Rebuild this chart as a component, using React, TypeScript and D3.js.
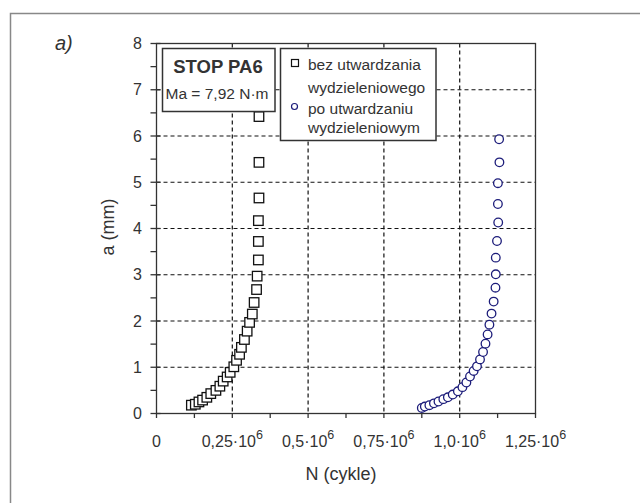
import React from "react";
import * as d3 from "d3";

const xTickValues = [0, 0.25e6, 0.5e6, 0.75e6, 1.0e6, 1.25e6];
const xTickMantissa = ["0", "0,25", "0,5", "0,75", "1,0", "1,25"];
const yTickValues = [0, 1, 2, 3, 4, 5, 6, 7, 8];

// series 1: bez utwardzania wydzieleniowego (squares)
const sqN = [0.115, 0.128, 0.14, 0.152, 0.166, 0.179, 0.196, 0.209, 0.22, 0.233, 0.243, 0.255, 0.264, 0.274, 0.28, 0.29, 0.299, 0.307, 0.316, 0.322, 0.33, 0.332, 0.336, 0.336, 0.336, 0.338, 0.338, 0.338];
const sqA = [0.18, 0.2, 0.25, 0.29, 0.35, 0.43, 0.5, 0.59, 0.7, 0.79, 0.89, 1.01, 1.15, 1.28, 1.43, 1.6, 1.78, 1.97, 2.15, 2.4, 2.68, 2.97, 3.32, 3.72, 4.17, 4.66, 5.43, 6.42];

// series 2: po utwardzaniu wydzieleniowym (circles)
const ciN = [0.875, 0.885, 0.9, 0.915, 0.93, 0.946, 0.961, 0.977, 0.994, 1.009, 1.022, 1.034, 1.046, 1.057, 1.067, 1.077, 1.085, 1.092, 1.098, 1.105, 1.112, 1.118, 1.119, 1.119, 1.123, 1.127, 1.126, 1.126, 1.131, 1.13];
const ciA = [0.12, 0.15, 0.18, 0.22, 0.26, 0.31, 0.35, 0.41, 0.48, 0.57, 0.67, 0.8, 0.92, 1.02, 1.17, 1.33, 1.51, 1.71, 1.92, 2.16, 2.42, 2.72, 3.01, 3.37, 3.73, 4.13, 4.53, 4.98, 5.43, 5.93];

const legendLines = ["bez utwardzania", "wydzieleniowego", "po utwardzaniu", "wydzieleniowym"];

const W = 640;
const H = 503;
const L = 156.5, R = 535.5, T = 43.5, B = 413.5;
const FONT = "'Liberation Sans', Arial, sans-serif";
const TXT = "#333";

export default function App() {
  const x = d3.scaleLinear().domain([0, 1.25e6]).range([L, R]);
  const y = d3.scaleLinear().domain([0, 8]).range([B, T]);
  const xMinor = d3.range(0, 1.25e6 + 1, 0.125e6);
  const yMinor = d3.range(0, 8.01, 0.5);
  const sq = 9.5;

  return (
    <svg width={W} height={H} style={{ position: "absolute", left: 0, top: 0, background: "#fff" }} fontFamily={FONT}>
      <rect x={0} y={0} width={W} height={H} fill="#fff" />
      <rect x={10.5} y={13.5} width={700} height={600} fill="none" stroke="#888" strokeWidth={1.5} />
      <text x={55} y={50} fontSize={20} fontStyle="italic" fill={TXT}>a)</text>

      {/* grid */}
      {xTickValues.slice(1, -1).map((v, i) => (
        <line key={"gx" + i} x1={x(v)} x2={x(v)} y1={T} y2={B} stroke="#111" strokeWidth={1.2} strokeDasharray="4,3" />
      ))}
      {yTickValues.slice(1, -1).map((v, i) => (
        <line key={"gy" + i} x1={L} x2={R} y1={y(v)} y2={y(v)} stroke="#111" strokeWidth={1.2} strokeDasharray="4,3" />
      ))}

      {/* frame */}
      <rect x={L} y={T} width={R - L} height={B - T} fill="none" stroke="#333" strokeWidth={1.3} />

      {/* ticks */}
      {xMinor.map((v, i) => (
        <line key={"tx" + i} x1={x(v)} x2={x(v)} y1={B} y2={B + 4.5} stroke="#333" strokeWidth={1.3} />
      ))}
      {yMinor.map((v, i) => {
        const major = Math.abs(v - Math.round(v)) < 1e-6;
        return (
          <line key={"ty" + i} x1={L - 6} x2={major ? L + 4 : L} y1={y(v)} y2={y(v)} stroke="#333" strokeWidth={1.3} />
        );
      })}

      {/* y labels */}
      {yTickValues.map((v, i) => (
        <text key={"ly" + i} x={137.5} y={y(v) + 5.5} fontSize={16} textAnchor="middle" fill={TXT}>{v}</text>
      ))}
      {/* x labels */}
      {xTickValues.map((v, i) => (
        <text key={"lx" + i} x={x(v)} y={447} fontSize={16} textAnchor="middle" fill={TXT}>
          {i === 0 ? (
            "0"
          ) : (
            <>
              {xTickMantissa[i] + "·10"}
              <tspan fontSize={12.5} dy={-8}>6</tspan>
            </>
          )}
        </text>
      ))}

      <text x={341} y={480} fontSize={18} textAnchor="middle" fill={TXT}>N (cykle)</text>
      <text transform={`translate(114,227) rotate(-90)`} fontSize={18} textAnchor="middle" fill={TXT}>a (mm)</text>

      {/* squares */}
      {sqN.map((n, i) => (
        <rect key={"s" + i} x={x(n * 1e6) - sq / 2} y={y(sqA[i]) - sq / 2} width={sq} height={sq} fill="#fff" stroke="#111" strokeWidth={1.3} />
      ))}
      {/* circles */}
      {ciN.map((n, i) => (
        <circle key={"c" + i} cx={x(n * 1e6)} cy={y(ciA[i])} r={4.3} fill="#fff" stroke="#1c1c7a" strokeWidth={1.3} />
      ))}

      {/* legend box 1 */}
      <rect x={162.5} y={48.5} width={112.5} height={63} fill="#fff" stroke="#333" strokeWidth={1.5} />
      <text x={218} y={73} fontSize={18.5} fontWeight="bold" textAnchor="middle" fill={TXT}>STOP PA6</text>
      <text x={217} y={98.5} fontSize={15.5} textAnchor="middle" fill={TXT}>Ma = 7,92 N·m</text>

      {/* legend box 2 */}
      <rect x={280.5} y={48.5} width={155.5} height={92} fill="#fff" stroke="#333" strokeWidth={1.5} />
      <rect x={291.5} y={59.5} width={7} height={7} fill="#fff" stroke="#111" strokeWidth={1.2} />
      <circle cx={294.5} cy={106.5} r={3} fill="#fff" stroke="#1c1c7a" strokeWidth={1.2} />
      {legendLines.map((t, i) => (
        <text key={"lg" + i} x={308} y={[70, 93, 114, 133][i]} fontSize={15.5} fill={TXT}>{t}</text>
      ))}
    </svg>
  );
}
